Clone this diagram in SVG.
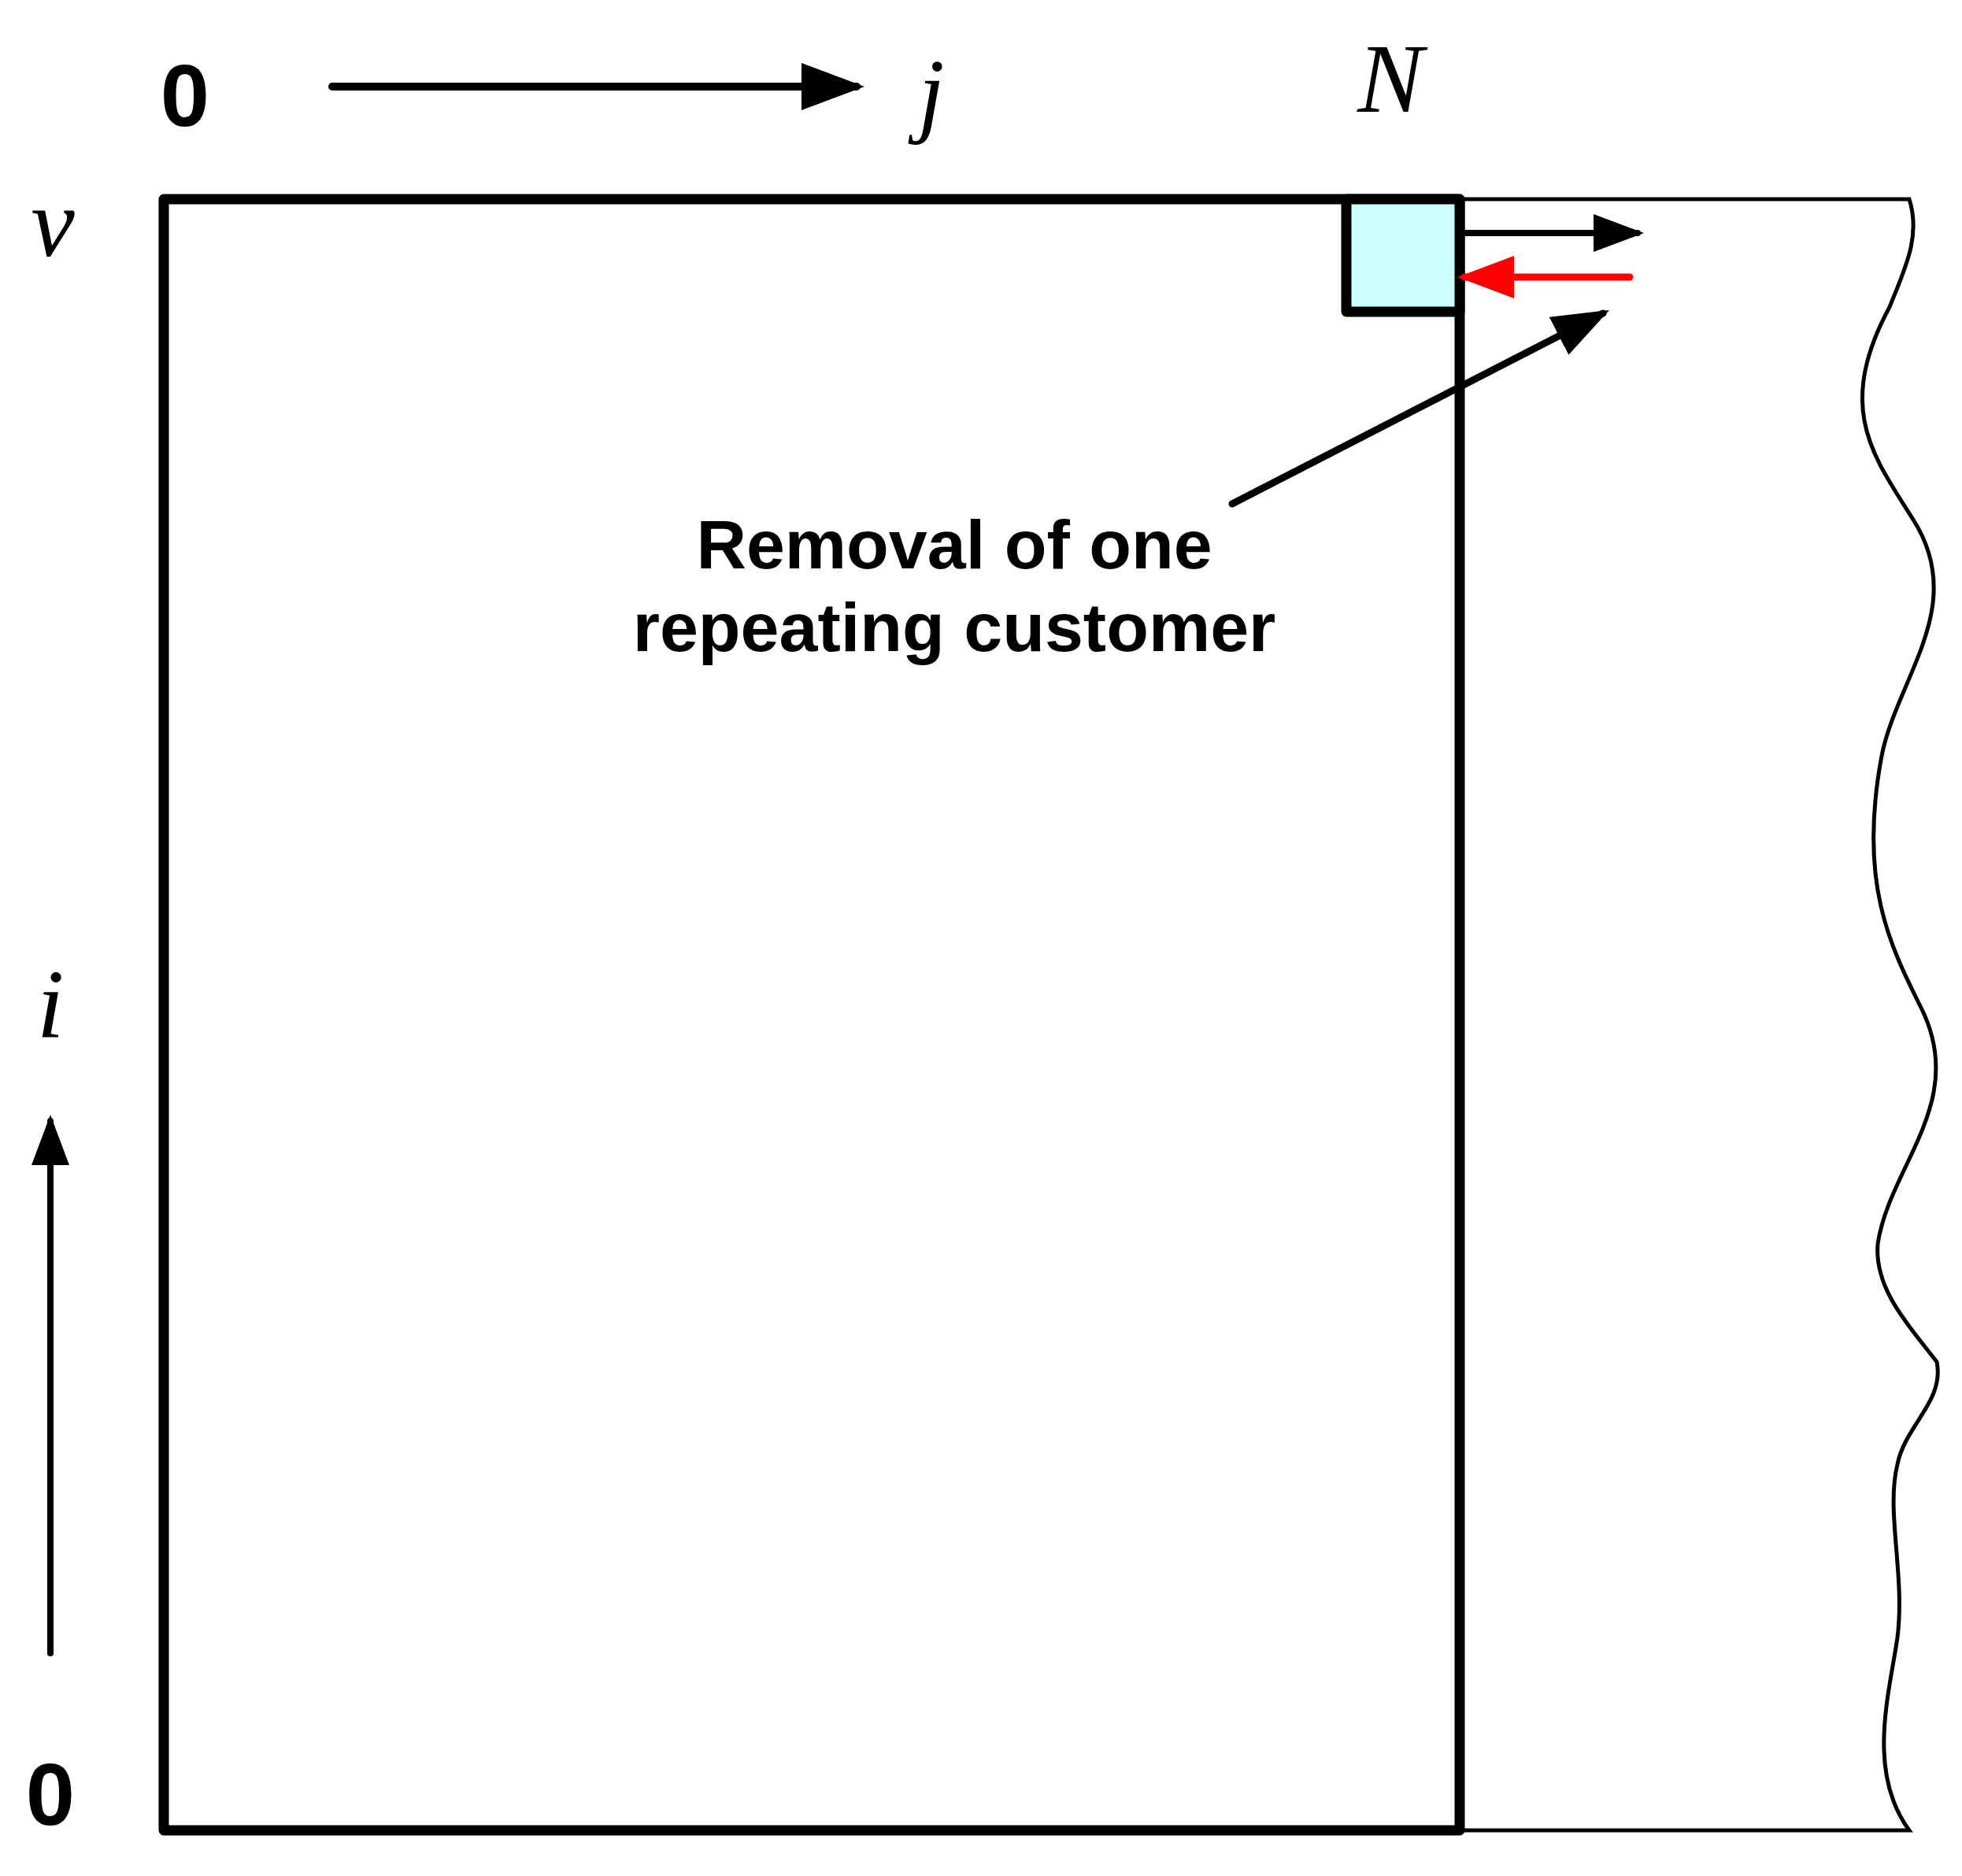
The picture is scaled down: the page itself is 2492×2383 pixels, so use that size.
<svg xmlns="http://www.w3.org/2000/svg" width="2492" height="2383" viewBox="0 0 2492 2383">
<style>
.b{font-family:"Liberation Sans",Arial,sans-serif;font-weight:bold;fill:#000}
.m{font-family:"Liberation Serif","Times New Roman",serif;font-style:italic;fill:#000}
.ln{stroke:#000;fill:none;stroke-linecap:round}
</style>
<defs>
<marker id="ah" markerWidth="8" markerHeight="6" refX="7" refY="3" orient="auto" markerUnits="strokeWidth"><path d="M0,0 L8,3 L0,6 z" fill="#000"/></marker>
<marker id="ar" markerWidth="8" markerHeight="6" refX="7" refY="3" orient="auto" markerUnits="strokeWidth"><path d="M0,0 L8,3 L0,6 z" fill="#f00"/></marker>
</defs>
<rect width="2492" height="2383" fill="#fff"/>
<g id="wavy">
<path class="ln" stroke-width="5" d="M1854,253 L2425,253 C2440,300 2420,340 2400,390 C2330,520 2380,580 2430,660 C2500,770 2410,860 2390,960 C2360,1120 2400,1200 2440,1280 C2500,1400 2400,1480 2385,1580 C2380,1640 2430,1690 2460,1730 C2470,1780 2420,1810 2410,1860 C2395,1920 2420,2000 2410,2080 C2400,2150 2370,2250 2425,2325 L1854,2325"/>
</g>
<g id="main"><rect x="208" y="253" width="1646" height="2072" fill="none" stroke="#000" stroke-width="13" stroke-linejoin="round"/></g>
<g id="cell"><rect x="1710" y="253" width="144" height="143" fill="#ccffff" stroke="#000" stroke-width="13" stroke-linejoin="round"/></g>
<g id="connectors">
<line class="ln" x1="422" y1="110" x2="1088" y2="110" stroke-width="10" marker-end="url(#ah)"/>
<line class="ln" x1="64" y1="2100" x2="64" y2="1424" stroke-width="8" marker-end="url(#ah)"/>
<line class="ln" x1="1860" y1="296" x2="2080" y2="296" stroke-width="8" marker-end="url(#ah)"/>
<line x1="2070" y1="352" x2="1860" y2="352" stroke="#f00" stroke-width="9" stroke-linecap="round" marker-end="url(#ar)"/>
<line class="ln" x1="1565" y1="640" x2="2036" y2="398" stroke-width="9" marker-end="url(#ah)"/>
</g>
<g id="labels">
<text class="b" x="235" y="160" font-size="112" text-anchor="middle">0</text>
<text class="b" x="64" y="2318" font-size="112" text-anchor="middle">0</text>
<text class="m" x="1183" y="158" font-size="120" text-anchor="middle">j</text>
<text class="m" x="1766" y="142" font-size="125" text-anchor="middle">N</text>
<text class="m" x="67" y="325" font-size="125" text-anchor="middle">v</text>
<text class="m" x="64" y="1318" font-size="125" text-anchor="middle">i</text>
<text class="b" x="1212" y="722" font-size="88" text-anchor="middle">Removal of one</text>
<text class="b" x="1212" y="827" font-size="88" text-anchor="middle">repeating customer</text>
</g>
</svg>
